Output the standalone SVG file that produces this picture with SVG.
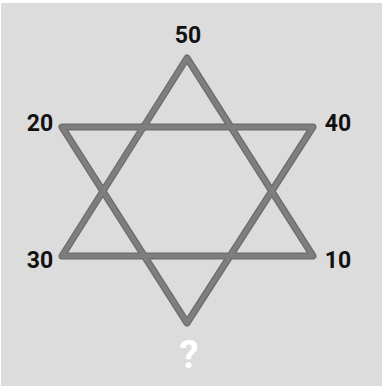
<svg xmlns="http://www.w3.org/2000/svg" width="382" height="386" viewBox="0 0 382 386">
<style>
.edge{fill:none;stroke:#6c6c6c;stroke-width:7;stroke-linejoin:round;stroke-linecap:round}
.inner{fill:none;stroke:#7e7e7e;stroke-width:4.5;stroke-linejoin:round;stroke-linecap:round}
.lbl{font-family:Roboto,"Liberation Sans",sans-serif;font-weight:bold;font-size:23px;fill:#111}
.q{font-family:Roboto,"Liberation Sans",sans-serif;font-weight:bold;font-size:38px;fill:#fff}
</style>
<rect width="382" height="386" fill="#ffffff"/>
<rect x="1" y="3" width="381" height="383" fill="#dcdcdc"/>
<g id="connectors">
<polygon class="edge" points="187,58 313,256 62,256"/>
<polygon class="edge" points="62,127 313,127 187,323"/>
<polygon class="inner" points="187,58 313,256 62,256"/>
<polygon class="inner" points="62,127 313,127 187,323"/>
</g>
<g id="n50"><text class="lbl" x="188" y="43" text-anchor="middle">50</text></g>
<g id="n20"><text class="lbl" x="40" y="131" text-anchor="middle">20</text></g>
<g id="n40"><text class="lbl" x="338" y="131" text-anchor="middle">40</text></g>
<g id="n30"><text class="lbl" x="40" y="268" text-anchor="middle">30</text></g>
<g id="n10"><text class="lbl" x="338" y="268" text-anchor="middle">10</text></g>
<g id="nq"><text class="q" x="189" y="368" text-anchor="middle">?</text></g>
</svg>
